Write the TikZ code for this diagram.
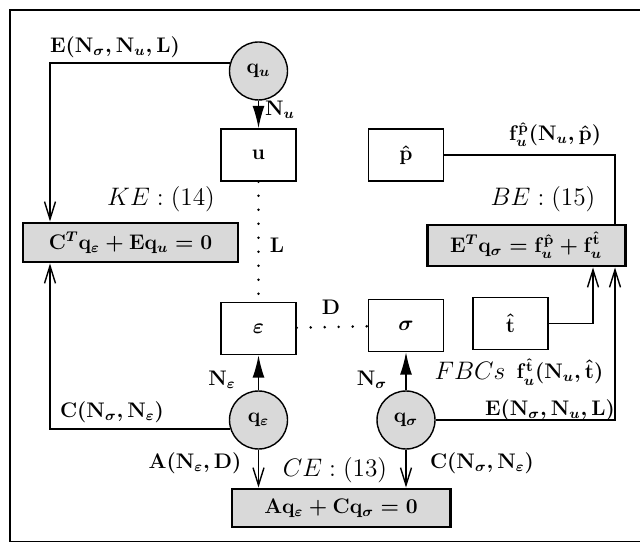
\documentclass[tikz,border=0pt]{standalone}
\usetikzlibrary{arrows.meta}
\begin{document}
\begin{tikzpicture}[x=1cm,y=1cm,>={Straight Barb[length=3.5mm,width=2.2mm]},
  font=\large\boldmath,line width=0.8pt,
  box/.style={draw,minimum width=1.5cm,minimum height=1.04cm,inner sep=0pt},
  eqbox/.style={draw,line width=1.7pt,fill=gray!30,inner sep=0pt},
  dof/.style={draw,circle,fill=gray!30,minimum size=1.16cm,inner sep=0pt},
  fat/.style={-{Latex[length=4.5mm,width=2.4mm]}},
  dotline/.style={line width=1.6pt,line cap=round,dash pattern=on 0pt off 2.8mm},
  thin/.style={font=\Large\unboldmath,inner sep=1pt}]
\useasboundingbox (0,0) rectangle (12.8,10.86);
% frame
\draw[line width=1pt] (12.8,10.66) -- (0.2,10.66) -- (0.2,0.03) -- (12.8,0.03);
% unknowns and fields
\node[dof] (qu) at (5.17,9.44){$\mathbf{q}_u$};
\node[box] (u) at (5.17,7.76){$\mathbf{u}$};
\node[box] (ph) at (8.12,7.76){$\hat{\mathbf{p}}$};
\node[box] (eps) at (5.17,4.29){$\varepsilon$};
\node[box] (sig) at (8.12,4.35){$\sigma$};
\node[box] (th) at (10.21,4.39){$\hat{\mathbf{t}}$};
\node[dof] (qe) at (5.17,2.46){$\mathbf{q}_\varepsilon$};
\node[dof] (qs) at (8.12,2.46){$\mathbf{q}_\sigma$};
% equations
\node[eqbox,minimum width=4.3cm,minimum height=0.78cm] (ke) at (2.61,6.01){$\mathbf{C}^T\mathbf{q}_\varepsilon+\mathbf{E}\mathbf{q}_u=\mathbf{0}$};
\node[eqbox,minimum width=3.96cm,minimum height=0.82cm] (be) at (10.52,5.95){$\mathbf{E}^T\mathbf{q}_\sigma=\mathbf{f}_u^{\hat{\mathbf{p}}}+\mathbf{f}_u^{\hat{\mathbf{t}}}$};
\node[eqbox,minimum width=4.36cm,minimum height=0.76cm] (ce) at (6.82,0.7){$\mathbf{A}\mathbf{q}_\varepsilon+\mathbf{C}\mathbf{q}_\sigma=\mathbf{0}$};
\node[thin] (lke) at (3.22,6.88){$KE:(14)$};
\node[thin] (lbe) at (10.86,6.88){$BE:(15)$};
\node[thin] (lce) at (6.7,1.46){$CE:(13)$};
\node[thin] (lfbc) at (9.4,3.44){$FBCs$};
% labels
\node (lEu) at (2.3,9.92){$\mathbf{E}(\mathbf{N}_\sigma,\mathbf{N}_u,\mathbf{L})$};
\node (lNu) at (5.6,8.66){$\mathbf{N}_u$};
\node (lfp) at (11.1,8.16){$\mathbf{f}_u^{\hat{\mathbf{p}}}(\mathbf{N}_u,\hat{\mathbf{p}})$};
\node (lL) at (5.54,5.96){$\mathbf{L}$};
\node (lD) at (6.62,4.72){$\mathbf{D}$};
\node (lNe) at (4.44,3.26){$\mathbf{N}_\varepsilon$};
\node (lNs) at (7.44,3.26){$\mathbf{N}_\sigma$};
\node (lft) at (11.2,3.42){$\mathbf{f}_u^{\hat{\mathbf{t}}}(\mathbf{N}_u,\hat{\mathbf{t}})$};
\node (lEs) at (11.0,2.66){$\mathbf{E}(\mathbf{N}_\sigma,\mathbf{N}_u,\mathbf{L})$};
\node (lCl) at (2.24,2.62){$\mathbf{C}(\mathbf{N}_\sigma,\mathbf{N}_\varepsilon)$};
\node (lA) at (3.9,1.6){$\mathbf{A}(\mathbf{N}_\varepsilon,\mathbf{D})$};
\node (lCr) at (9.64,1.6){$\mathbf{C}(\mathbf{N}_\sigma,\mathbf{N}_\varepsilon)$};
% turning points
\coordinate (kl) at (1.0,0);
\coordinate (bt) at (11.86,0);
\coordinate (br) at (12.3,0);
% connectors
\draw[fat] (qu) -- (u);
\draw[fat] (qe) -- (eps);
\draw[fat] (qs) -- (sig);
\draw[dotline] (u) -- (eps);
\draw[dotline] (eps) -- (sig);
\draw[->] (qu.164) -| (ke.north -| kl);
\draw[->] (qe.198) -| (ke.south -| kl);
\draw (ph) -- (ph -| br) -- (be.north -| br);
\draw[->] (th) -| (be.south -| bt);
\draw[->] (qs) -| (be.south -| br);
\draw[->] (qe) -- (qe |- ce.north);
\draw[->] (qs) -- (qs |- ce.north);
\end{tikzpicture}
\end{document}
